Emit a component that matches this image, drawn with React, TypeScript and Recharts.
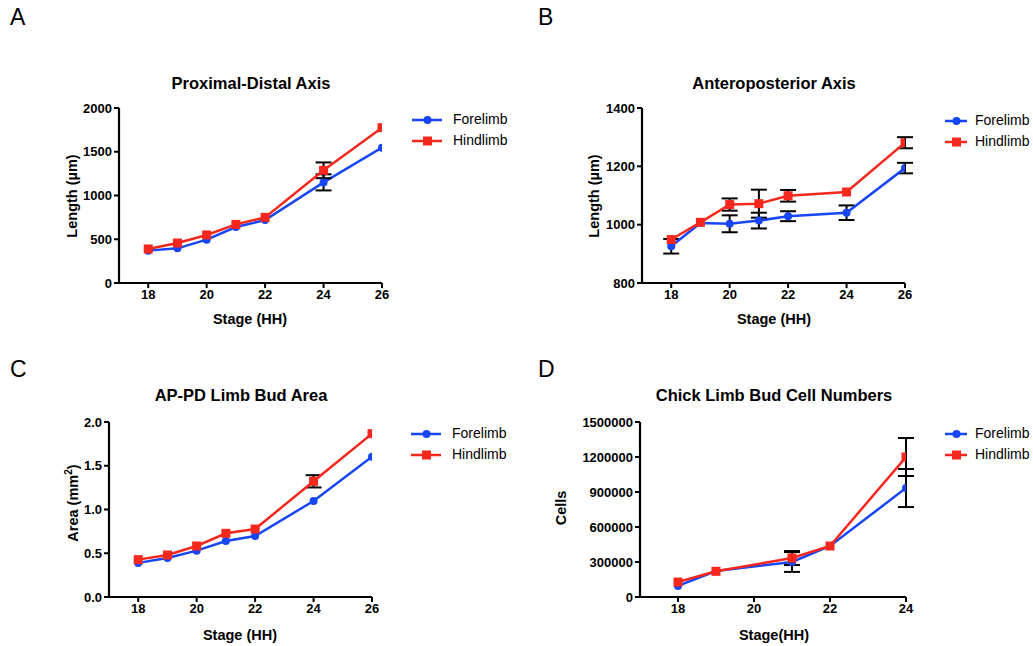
import React from "react";
import {
  ErrorBar,
  Legend,
  Line,
  LineChart,
  XAxis,
  YAxis,
} from "recharts";

// ---- data; null = error bar hidden behind the marker ----
const stages = [18, 19, 20, 21, 22, 24, 26];

const pdFore = [370, 396, 495, 640, 720, 1150, 1547];
const pdForeErr = [null, null, null, null, null, 92, null];
const pdHind = [389, 457, 549, 670, 750, 1288, 1775];
const pdHindErr = [null, null, null, null, null, 90, null];

const apFore = [926, 1006, 1003, 1014, 1029, 1041, 1194];
const apForeErr = [25, null, 29, 27, 17, 25, 18];
const apHind = [949, 1008, 1069, 1072, 1099, 1112, 1281];
const apHindErr = [null, null, 21, 48, 20, null, 19];

const areaFore = [0.39, 0.446, 0.53, 0.64, 0.697, 1.097, 1.604];
const areaForeErr = [null, null, null, null, null, null, null];
const areaHind = [0.427, 0.48, 0.583, 0.728, 0.777, 1.322, 1.867];
const areaHindErr = [null, null, null, null, null, 0.07, null];

const cellStages = [18, 19, 21, 22, 24];
const cellFore = [95000, 223000, 300000, 437000, 934000];
const cellForeErr = [null, null, 85000, null, 163000];
const cellHind = [128000, 220000, 334000, 437000, 1200000];
const cellHindErr = [null, null, 60000, null, 163000];

const pdTicks = [0, 500, 1000, 1500, 2000];
const apTicks = [800, 1000, 1200, 1400];
const areaTicks = [0, 0.5, 1.0, 1.5, 2.0];
const cellTicks = [0, 300000, 600000, 900000, 1200000, 1500000];
const stageTicks = [18, 20, 22, 24, 26];
const cellStageTicks = [18, 20, 22, 24];

const BLUE = "#1646f5";
const RED = "#f5281e";
const FONT = "Arial, 'Liberation Sans', Helvetica, sans-serif";

function rows(x: number[], f: number[], fe: (number | null)[], h: number[], he: (number | null)[]) {
  return x.map((s, i) => ({ stage: s, fore: f[i], foreErr: fe[i], hind: h[i], hindErr: he[i] }));
}

const SquareDot = (props: any) => {
  const { cx, cy, index } = props;
  if (cx == null || cy == null) return <g key={`sq-${index}`} />;
  return <rect key={`sq-${index}`} x={cx - 4.5} y={cy - 4.5} width={9} height={9} fill={RED} />;
};

const LegendBox = ({ lineLen, gap }: { lineLen: number; gap: number }) => (
  <div style={{ fontFamily: FONT, fontSize: 14, color: "#000", lineHeight: "21px" }}>
    {[
      { name: "Forelimb", color: BLUE, sq: false },
      { name: "Hindlimb", color: RED, sq: true },
    ].map((e) => (
      <div key={e.name} style={{ display: "flex", alignItems: "center", height: 21 }}>
        <svg width={lineLen + gap} height={12} style={{ flex: "none" }}>
          <line x1={1} y1={6} x2={lineLen} y2={6} stroke={e.color} strokeWidth={2.5} />
          {e.sq ? (
            <rect x={lineLen / 2 - 3.5} y={1.5} width={9} height={9} fill={e.color} />
          ) : (
            <circle cx={lineLen / 2 + 1} cy={6} r={4} fill={e.color} />
          )}
        </svg>
        <span>{e.name}</span>
      </div>
    ))}
  </div>
);

const tickStyle = { fontSize: 13, fontWeight: 700, fill: "#000", fontFamily: FONT };
const axisLine = { stroke: "#000", strokeWidth: 2.2 };
const tickLine = { stroke: "#000", strokeWidth: 2 };

type PanelProps = {
  left: number;
  top: number;
  width: number;
  height: number;
  margin: { top: number; right: number; bottom: number; left: number };
  yWidth: number;
  data: any[];
  xDomain: [number, number];
  xTicks: number[];
  yDomain: [number, number];
  yTicks: number[];
  yFmt?: (v: number) => string;
  legendLeft: number;
  legendTop: number;
  legendLine: number;
  legendGap: number;
};

function Panel(p: PanelProps) {
  return (
    <div style={{ position: "absolute", left: p.left, top: p.top }}>
      <LineChart width={p.width} height={p.height} data={p.data} margin={p.margin}>
        <XAxis
          dataKey="stage"
          type="number"
          domain={p.xDomain}
          ticks={p.xTicks}
          allowDataOverflow
          height={40}
          axisLine={axisLine}
          tickLine={tickLine}
          tickSize={5}
          tick={tickStyle}
        />
        <YAxis
          type="number"
          domain={p.yDomain}
          ticks={p.yTicks}
          width={p.yWidth}
          allowDataOverflow
          axisLine={axisLine}
          tickLine={tickLine}
          tickSize={5}
          tick={tickStyle}
          tickFormatter={p.yFmt}
        />
        <Legend
          layout="vertical"
          align="center"
          verticalAlign="middle"
          content={() => <LegendBox lineLen={p.legendLine} gap={p.legendGap} />}
          wrapperStyle={{ left: p.legendLeft, top: p.legendTop, width: 120 }}
        />
        <Line
          dataKey="fore"
          name="Forelimb"
          stroke={BLUE}
          strokeWidth={2.5}
          dot={{ r: 4, fill: BLUE, stroke: BLUE, strokeWidth: 0 }}
          isAnimationActive={false}
        >
          <ErrorBar dataKey="foreErr" direction="y" width={8} stroke="#000" strokeWidth={2} />
        </Line>
        <Line
          dataKey="hind"
          name="Hindlimb"
          stroke={RED}
          strokeWidth={2.5}
          dot={SquareDot}
          isAnimationActive={false}
        >
          <ErrorBar dataKey="hindErr" direction="y" width={8} stroke="#000" strokeWidth={2} />
        </Line>
      </LineChart>
    </div>
  );
}

const abs = (x: number, y: number, extra: React.CSSProperties = {}): React.CSSProperties => ({
  position: "absolute",
  left: x,
  top: y,
  transform: "translate(-50%, -50%)",
  whiteSpace: "nowrap",
  fontFamily: FONT,
  color: "#000",
  ...extra,
});

const title = (x: number, y: number, t: string) => (
  <div style={abs(x, y, { fontSize: 16.5, fontWeight: 700 })}>{t}</div>
);
const xLabel = (x: number, y: number, t: React.ReactNode) => (
  <div style={abs(x, y, { fontSize: 14.5, fontWeight: 700 })}>{t}</div>
);
const yLabel = (x: number, y: number, t: React.ReactNode) => (
  <div style={abs(x, y, { fontSize: 14.5, fontWeight: 700, transform: "translate(-50%, -50%) rotate(-90deg)" })}>
    {t}
  </div>
);
const letter = (x: number, y: number, t: string) => (
  <div style={{ position: "absolute", left: x, top: y, fontFamily: FONT, fontSize: 23, lineHeight: "23px" }}>{t}</div>
);

export default function App() {
  return (
    <div style={{ position: "absolute", left: 0, top: 0, width: 1033, height: 646, background: "#fff", overflow: "hidden" }}>
      {letter(10, 6, "A")}
      {letter(538, 6, "B")}
      {letter(10, 358, "C")}
      {letter(538, 358, "D")}

      {title(251, 83, "Proximal-Distal Axis")}
      {title(774, 83, "Anteroposterior Axis")}
      {title(241, 395, "AP-PD Limb Bud Area")}
      {title(774, 395, "Chick Limb Bud Cell Numbers")}

      <Panel
        left={0}
        top={0}
        width={540}
        height={330}
        margin={{ top: 108, right: 158, bottom: 7, left: 0 }}
        yWidth={119}
        data={rows(stages, pdFore, pdForeErr, pdHind, pdHindErr)}
        xDomain={[17, 26]}
        xTicks={stageTicks}
        yDomain={[0, 2000]}
        yTicks={pdTicks}
        legendLeft={411}
        legendTop={109}
        legendLine={31}
        legendGap={11}
      />
      <Panel
        left={540}
        top={0}
        width={493}
        height={330}
        margin={{ top: 108, right: 128, bottom: 7, left: 0 }}
        yWidth={102}
        data={rows(stages, apFore, apForeErr, apHind, apHindErr)}
        xDomain={[17, 26]}
        xTicks={stageTicks}
        yDomain={[800, 1400]}
        yTicks={apTicks}
        legendLeft={404}
        legendTop={110}
        legendLine={23}
        legendGap={8}
      />
      <Panel
        left={0}
        top={330}
        width={540}
        height={316}
        margin={{ top: 92, right: 168, bottom: 9, left: 0 }}
        yWidth={109}
        data={rows(stages, areaFore, areaForeErr, areaHind, areaHindErr)}
        xDomain={[17, 26]}
        xTicks={stageTicks}
        yDomain={[0, 2]}
        yTicks={areaTicks}
        yFmt={(v) => v.toFixed(1)}
        legendLeft={410}
        legendTop={93}
        legendLine={31}
        legendGap={11}
      />
      <Panel
        left={540}
        top={330}
        width={493}
        height={316}
        margin={{ top: 92, right: 127, bottom: 9, left: 0 }}
        yWidth={100}
        data={rows(cellStages, cellFore, cellForeErr, cellHind, cellHindErr)}
        xDomain={[17, 24]}
        xTicks={cellStageTicks}
        yDomain={[0, 1500000]}
        yTicks={cellTicks}
        legendLeft={404}
        legendTop={93}
        legendLine={23}
        legendGap={8}
      />

      {xLabel(250, 319, "Stage (HH)")}
      {xLabel(774, 319, "Stage (HH)")}
      {xLabel(240, 635, "Stage (HH)")}
      {xLabel(774, 635, "Stage(HH)")}

      {yLabel(72, 196, <>Length (µm)</>)}
      {yLabel(594, 196, <>Length (µm)</>)}
      {yLabel(72, 503, <>Area (mm<sup style={{ fontSize: 10 }}>2</sup>)</>)}
      {yLabel(561, 508, "Cells")}
    </div>
  );
}
